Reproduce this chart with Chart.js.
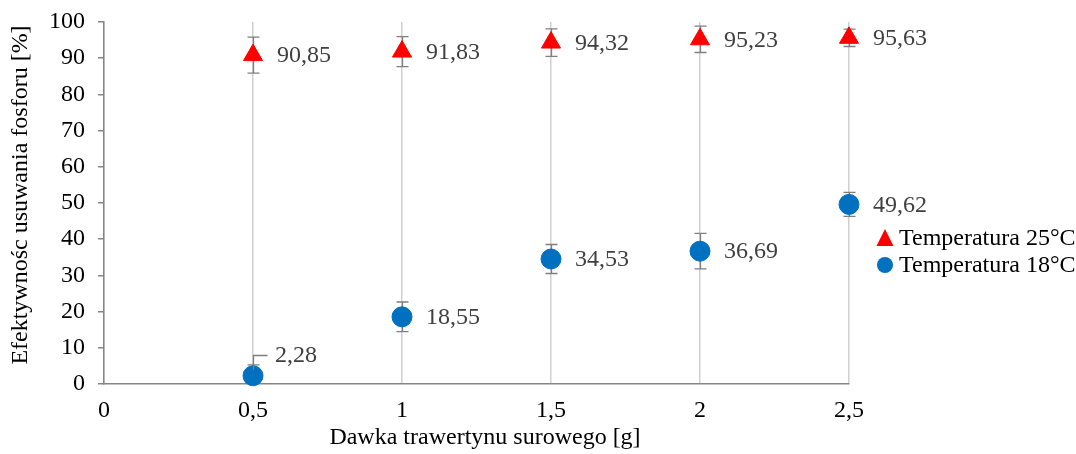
<!DOCTYPE html>
<html>
<head>
<meta charset="utf-8">
<script src="https://cdn.jsdelivr.net/npm/chart.js@4/dist/chart.umd.min.js"></script>
<style>
html,body{margin:0;padding:0;background:#fff;}
#wrap{width:1076px;height:454px;}
</style>
</head>
<body>
<div id="wrap"><canvas id="c" width="1076" height="454"></canvas></div>
<script>
// ---- data ----
const doses = [0.5, 1, 1.5, 2, 2.5];
const eff25 = [90.85, 91.83, 94.32, 95.23, 95.63];
const err25 = [4.95, 4.15, 3.8, 3.65, 2.4];
const eff18 = [2.28, 18.55, 34.53, 36.69, 49.62];
const err18 = [3.0, 4.1, 4.0, 4.9, 3.3];
const seriesNames = ['Temperatura 25°C', 'Temperatura 18°C'];
const xTicks = [0, 0.5, 1, 1.5, 2, 2.5];
const yTicks = [0, 10, 20, 30, 40, 50, 60, 70, 80, 90, 100];
const xTitle = 'Dawka trawertynu surowego [g]';
const yTitle = 'Efektywnośc usuwania fosforu [%]';

// ---- styling ----
const FONT = '"Liberation Serif", "Times New Roman", serif';
const FS = 24;
const RED = '#ff0000';
const BLUE = '#0070c0';
const AXIS = '#868686';
const GRID = '#d0d0d0';
const ERR = '#7f7f7f';
const LABEL = '#404040';
// label placement tweak for the point sitting on the axis (dataset 1, point 0)
const labelShift = {'1-0': {dx: 22, dy: -21, leader: true}};

const fmt = v => String(v).replace('.', ',');
const fmt2 = v => v.toFixed(2).replace('.', ',');

const errorBars = {
  id: 'errorBars',
  beforeDatasetsDraw(chart) {
    const {ctx, chartArea, scales: {x, y}} = chart;
    ctx.save();
    ctx.beginPath();
    ctx.rect(chartArea.left, chartArea.top - 2, chartArea.right - chartArea.left + 10, chartArea.bottom - chartArea.top + 2);
    ctx.clip();
    ctx.strokeStyle = ERR;
    ctx.lineWidth = 1.3;
    chart.data.datasets.forEach(ds => {
      ds.data.forEach((p, i) => {
        const e = ds.errors[i];
        const px = Math.round(x.getPixelForValue(p.x)) + 0.5;
        const yt = y.getPixelForValue(p.y + e);
        const yb = y.getPixelForValue(p.y - e);
        ctx.beginPath();
        ctx.moveTo(px, yt); ctx.lineTo(px, yb);
        ctx.moveTo(px - 6, yt); ctx.lineTo(px + 6, yt);
        ctx.moveTo(px - 6, yb); ctx.lineTo(px + 6, yb);
        ctx.stroke();
      });
    });
    ctx.restore();
  }
};

const valueLabels = {
  id: 'valueLabels',
  afterDatasetsDraw(chart) {
    const {ctx} = chart;
    ctx.save();
    ctx.font = FS + 'px ' + FONT;
    ctx.fillStyle = LABEL;
    ctx.textAlign = 'left';
    ctx.textBaseline = 'middle';
    chart.data.datasets.forEach((ds, di) => {
      const meta = chart.getDatasetMeta(di);
      meta.data.forEach((el, i) => {
        const v = ds.data[i].y;
        const sh = labelShift[di + '-' + i];
        if (sh) {
          const px = Math.round(el.x) + 0.5;
          const ly = Math.round(el.y + sh.dy) + 0.5;
          ctx.strokeStyle = ERR;
          ctx.lineWidth = 1.3;
          ctx.beginPath();
          ctx.moveTo(px, el.y - 6);
          ctx.lineTo(px, ly);
          ctx.lineTo(px + 14, ly);
          ctx.stroke();
          ctx.fillText(fmt2(v), el.x + sh.dx, el.y + sh.dy + 1);
        } else {
          ctx.fillText(fmt2(v), el.x + 24, el.y + 1);
        }
      });
    });
    ctx.restore();
  }
};

const titlesAndLegend = {
  id: 'titlesAndLegend',
  afterDraw(chart) {
    const {ctx} = chart;
    ctx.save();
    ctx.font = FS + 'px ' + FONT;
    ctx.fillStyle = '#000';
    ctx.textAlign = 'center';
    ctx.textBaseline = 'middle';
    // axis titles
    ctx.fillText(xTitle, 485, 438);
    ctx.save();
    ctx.translate(21, 195);
    ctx.rotate(-Math.PI / 2);
    ctx.fillText(yTitle, 0, 0);
    ctx.restore();
    // legend
    ctx.textAlign = 'left';
    const mx = 885, tx = 899;
    const ys = [238, 265];
    chart.data.datasets.forEach((ds, di) => {
      const cy = ys[di];
      ctx.fillStyle = ds.backgroundColor;
      ctx.beginPath();
      if (ds.pointStyle === 'triangle') {
        ctx.moveTo(mx, cy - 9);
        ctx.lineTo(mx + 8.5, cy + 8);
        ctx.lineTo(mx - 8.5, cy + 8);
        ctx.closePath();
      } else {
        ctx.arc(mx, cy, 8, 0, Math.PI * 2);
      }
      ctx.fill();
      ctx.fillStyle = '#000';
      ctx.fillText(ds.label, tx, cy + 1);
    });
    ctx.restore();
  }
};

new Chart(document.getElementById('c'), {
  type: 'scatter',
  data: {
    datasets: [
      {
        label: seriesNames[0],
        data: doses.map((d, i) => ({x: d, y: eff25[i]})),
        errors: err25,
        pointStyle: 'triangle',
        pointRadius: 11,
        pointHoverRadius: 11,
        backgroundColor: RED,
        borderColor: RED,
        borderWidth: 1,
        clip: false
      },
      {
        label: seriesNames[1],
        data: doses.map((d, i) => ({x: d, y: eff18[i]})),
        errors: err18,
        pointStyle: 'circle',
        pointRadius: 10,
        pointHoverRadius: 10,
        backgroundColor: BLUE,
        borderColor: BLUE,
        borderWidth: 1,
        clip: false
      }
    ]
  },
  options: {
    responsive: false,
    animation: false,
    devicePixelRatio: 1,
    layout: {padding: {top: 22, right: 227, bottom: 0, left: 0}},
    plugins: {legend: {display: false}, tooltip: {enabled: false}},
    scales: {
      x: {
        type: 'linear',
        min: 0, max: 2.5,
        afterBuildTicks: s => { s.ticks = xTicks.map(v => ({value: v})); },
        afterFit: s => { s.height = 70; s.paddingLeft = 0; s.paddingRight = 0; },
        ticks: {
          callback: v => fmt(v),
          font: {family: FONT, size: FS},
          color: '#000',
          padding: 12,
          maxRotation: 0,
          autoSkip: false
        },
        grid: {color: GRID, lineWidth: 1.5, drawTicks: false},
        border: {color: AXIS, width: 1.5},
        title: {display: false}
      },
      y: {
        type: 'linear',
        min: 0, max: 100,
        afterBuildTicks: s => { s.ticks = yTicks.map(v => ({value: v})); },
        afterFit: s => { s.width = 104; s.paddingTop = 0; s.paddingBottom = 0; },
        ticks: {
          font: {family: FONT, size: FS},
          color: '#000',
          padding: 13,
          autoSkip: false
        },
        grid: {drawOnChartArea: false, drawTicks: true, tickLength: 6, color: AXIS, lineWidth: 1.5},
        border: {color: AXIS, width: 1.5},
        title: {display: false}
      }
    }
  },
  plugins: [errorBars, valueLabels, titlesAndLegend]
});
</script>
</body>
</html>
